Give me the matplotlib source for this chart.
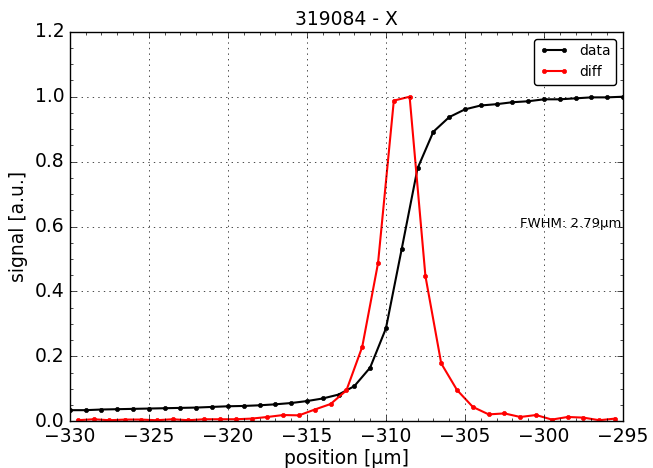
import numpy as np
import matplotlib
matplotlib.use('Agg')
import matplotlib.pyplot as plt

plt.style.use('classic')
plt.rcParams['figure.facecolor'] = 'white'
plt.rcParams['savefig.facecolor'] = 'white'
plt.rcParams['xtick.labelsize'] = 13.5
plt.rcParams['ytick.labelsize'] = 13.5

# edge scan (normalised signal) at integer positions
pos = np.arange(-330, -294, 1)
data = [0.034, 0.034, 0.036, 0.037, 0.038, 0.039, 0.040, 0.041, 0.042, 0.044,
        0.046, 0.047, 0.049, 0.052, 0.056, 0.062, 0.070, 0.082, 0.108, 0.165,
        0.286, 0.531, 0.779, 0.892, 0.937, 0.961, 0.973, 0.977, 0.983, 0.986,
        0.992, 0.992, 0.995, 0.998, 0.998, 1.000]

# derivative at the midpoints
pos_diff = np.arange(-329.5, -295, 1)
diff = [0.003, 0.006, 0.003, 0.005, 0.005, 0.003, 0.006, 0.003, 0.006, 0.006,
        0.006, 0.008, 0.013, 0.019, 0.018, 0.036, 0.053, 0.095, 0.229, 0.487,
        0.988, 1.000, 0.447, 0.178, 0.096, 0.044, 0.021, 0.024, 0.013, 0.019,
        0.005, 0.013, 0.011, 0.003, 0.008]

title = '319084 - X'
fwhm = 2.79

fig = plt.figure(figsize=(6.53, 4.68), dpi=100)
ax = fig.add_axes([0.107, 0.1, 0.847, 0.832])

ax.plot(pos, data, 'k.-', lw=1.5, ms=6, label='data')
ax.plot(pos_diff, diff, 'r.-', lw=1.5, ms=6, mec='r', label='diff')

ax.set_xlim(-330, -295)
ax.set_ylim(0, 1.2)
ax.set_xticks(np.arange(-330, -294, 5))
ax.set_yticks(np.arange(0, 1.21, 0.2))
ax.minorticks_on()
ax.grid(True, which='major', ls=':', color='k')
ax.set_title(title, fontsize=13.5)
ax.set_xlabel('position [\u00b5m]', fontsize=13.5, labelpad=2)
ax.set_ylabel('signal [a.u.]', fontsize=13.5)
ax.text(-301.5, 0.61, 'FWHM: %.2f\u00b5m' % fwhm, fontsize=9.5, va='center', ha='left')

leg = ax.legend(loc='upper right', fontsize=10, numpoints=2, fancybox=True)

fig.savefig('out.png', dpi=100)
